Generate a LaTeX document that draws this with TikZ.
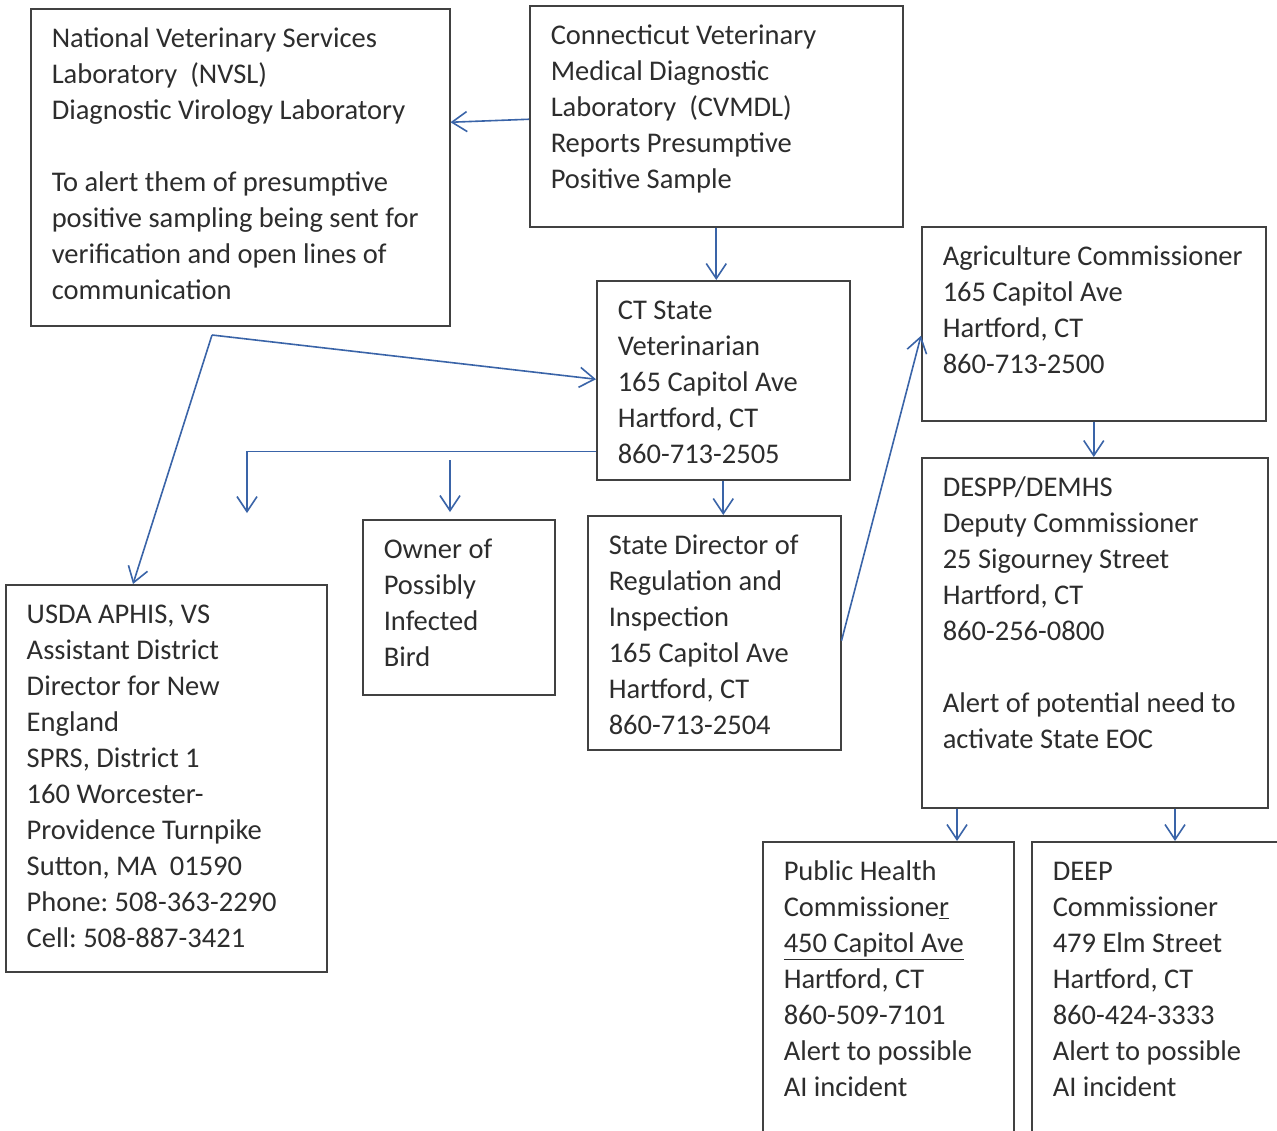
\documentclass[tikz,border=0pt]{standalone}
\usepackage{fontspec}
\setmainfont{Carlito}
\usepackage{tikz}
\usetikzlibrary{arrows.meta}

\definecolor{inkgray}{RGB}{45,45,45}
\definecolor{framegray}{RGB}{65,65,65}
\definecolor{flowblue}{RGB}{58,100,168}

% text block of a box: width, height, lines
\newcommand{\boxtext}[3]{\parbox[t][#2][t]{#1}{\raggedright\frenchspacing\rule{0pt}{39pt}#3}}

\tikzset{
  card/.style={draw=framegray, line width=1.5pt, anchor=north west, inner xsep=21pt, inner ysep=0pt,
    text=inkgray, font=\fontsize{28.5}{36}\selectfont},
  flow/.style={draw=flowblue, line width=1.6pt, -{Straight Barb[length=15pt,width=20pt,line width=1.6pt]}},
}

\begin{document}
\begin{tikzpicture}[x=1pt, y=-1pt]
    \path[use as bounding box, clip] (0,0) rectangle (1277,1130);
    \fill[white] (0,0) rectangle (1277,1130);

    % Boxes
    \node[card] (nvsl) at (30,8) {\boxtext{377pt}{317pt}{National Veterinary Services\\ Laboratory~~(NVSL)\\ Diagnostic Virology Laboratory\\[36pt] To alert them of presumptive\\ positive sampling being sent for\\ verification and open lines of\\ communication}};
    \node[card] (cvmdl) at (529,5) {\boxtext{331pt}{221pt}{Connecticut Veterinary\\ Medical Diagnostic\\ Laboratory~~(CVMDL)\\ Reports Presumptive\\ Positive Sample}};
    \node[card] (stvet) at (596,280) {\boxtext{211pt}{199pt}{CT State\\ Veterinarian\\ 165 Capitol Ave\\ Hartford, CT\\ 860-713-2505}};
    \node[card] (agri) at (921,226) {\boxtext{302pt}{194pt}{Agriculture Commissioner\\ 165 Capitol Ave\\ Hartford, CT\\ 860-713-2500}};
    \node[card] (despp) at (921,457) {\boxtext{304pt}{350pt}{DESPP/DEMHS\\ Deputy Commissioner\\ 25 Sigourney Street\\ Hartford, CT\\ 860-256-0800\\[36pt] Alert of potential need to\\ activate State EOC}};
    \node[card] (sdir) at (587,515) {\boxtext{211pt}{234pt}{State Director of\\ Regulation and\\ Inspection\\ 165 Capitol Ave\\ Hartford, CT\\ 860-713-2504}};
    \node[card] (owner) at (362,519) {\boxtext{150pt}{175pt}{Owner of\\ Possibly\\ Infected\\ Bird}};
    \node[card] (usda) at (5,584) {\boxtext{279pt}{387pt}{USDA APHIS, VS\\ Assistant District\\ Director for New\\ England\\ SPRS, District 1\\ 160 Worcester-\\ Providence Turnpike\\ Sutton, MA~~01590\\ Phone: 508-363-2290\\ Cell: 508-887-3421}};
    \node[card] (pubh) at (762,841) {\boxtext{209pt}{320pt}{Public Health\\ Commissione\underline{r}\\ \underline{450 Capitol Ave}\\ Hartford, CT\\ 860-509-7101\\ Alert to possible\\ AI incident}};
    \node[card] (deep) at (1031,841) {\boxtext{218pt}{320pt}{DEEP\\ Commissioner\\ 479 Elm Street\\ Hartford, CT\\ 860-424-3333\\ Alert to possible\\ AI incident}};

    % Loose ends
    \coordinate (split) at (212,335);
    \coordinate (stray) at (247,513);
    \coordinate (ownertap) at (450,460);

    % Arrows
    \draw[flow] ([yshift=-3pt]cvmdl.west) -- ([yshift=-6pt]cvmdl.west -| nvsl.east);
    \draw[flow] (cvmdl.south) -- (cvmdl.south |- stvet.north);
    \draw[flow] (split) -- ([yshift=1pt]stvet.west);
    \draw[flow] (split) -- ([xshift=128pt]usda.north west);
    \draw[flow] ([yshift=29pt]stvet.south west) -| (stray);
    \draw[flow] (ownertap) -- ([xshift=88pt,yshift=7pt]owner.north west);
    \draw[flow] (stvet.south) -- (stvet.south |- sdir.north);
    \draw[flow] ([yshift=-8pt]sdir.east) -- ([yshift=-12pt]agri.west);
    \draw[flow] (agri.south) -- (agri.south |- despp.north);
    \draw[flow] ([xshift=36pt]despp.south west) -- ([xshift=36pt]despp.south west |- pubh.north);
    \draw[flow] ([xshift=254pt]despp.south west) -- ([xshift=254pt]despp.south west |- deep.north);
\end{tikzpicture}
\end{document}
